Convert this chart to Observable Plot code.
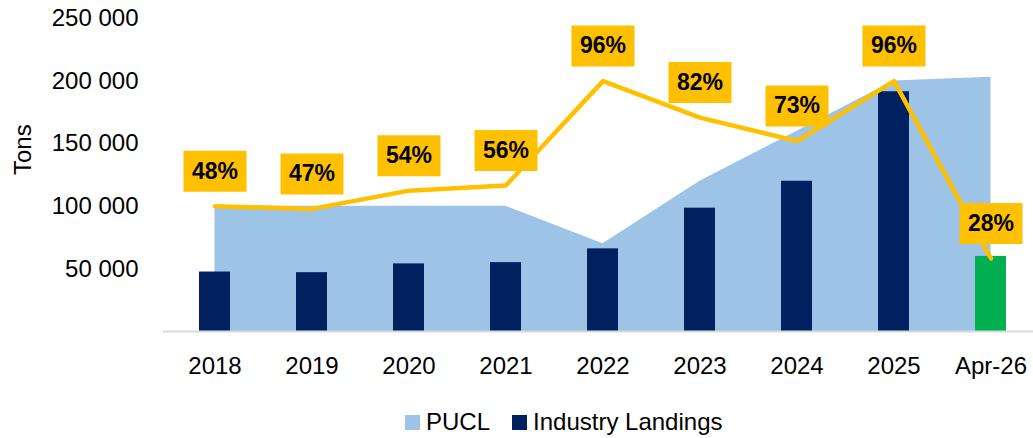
<!DOCTYPE html>
<html>
<head>
<meta charset="utf-8">
<script src="https://cdn.jsdelivr.net/npm/d3@7"></script>
<script src="https://cdn.jsdelivr.net/npm/@observablehq/plot@0.6"></script>
<style>
  html, body { margin: 0; padding: 0; background: #fff; overflow: hidden; }
  #wrap { position: relative; width: 1033px; height: 438px; font-family: "Liberation Sans", Arial, sans-serif; }
  #legend { position: absolute; left: 405px; top: 408px; height: 28px; display: flex; align-items: center; font-size: 24px; line-height: 28px; color: #000; }
  .sw { display: inline-block; width: 15px; height: 15px; margin-right: 6px; }
  .item { display: flex; align-items: center; margin-right: 22px; }
</style>
</head>
<body>
<div id="wrap">
  <div id="chart"></div>
  <div id="legend"></div>
</div>
<script>
const categories = ["2018", "2019", "2020", "2021", "2022", "2023", "2024", "2025", "Apr-26"];
const pucl = [100000, 100000, 100000, 100000, 70000, 120000, 160000, 200000, 203000];
const landings = [47500, 47000, 54000, 55000, 66000, 98500, 120000, 191500, 60000];
const utilization = [48, 47, 54, 56, 96, 82, 73, 96, 28];
const yTicks = [50000, 100000, 150000, 200000, 250000];

const data = categories.map((c, i) => ({
  cat: c, pucl: pucl[i], landings: landings[i], pct: utilization[i]
}));

// secondary axis: 0–120% shares the 0–250 000 range
const pctToY = p => p / 120 * 250000;

const font = '"Liberation Sans", Arial, sans-serif';
const labelBox = { draw(ctx) { ctx.rect(-31.5, -20.5, 63, 41); } };

const chart = Plot.plot({
  width: 1033,
  height: 395,
  marginLeft: 163,
  marginRight: -10,
  marginTop: 18,
  marginBottom: 64,
  style: { fontFamily: font, fontSize: "24px", color: "#000", background: "transparent" },
  x: { domain: categories, paddingInner: 0.68, paddingOuter: 0.34, label: null, tickSize: 0, tickPadding: 25 },
  y: { domain: [0, 250000], label: null, ticks: yTicks, tickSize: 0, tickPadding: 25,
       tickFormat: d => d3.format(",")(d).replace(/,/g, " ") },
  marks: [
    Plot.areaY(data, { x: "cat", y1: 0, y2: "pucl", fill: "#9DC3E6", curve: "linear" }),
    Plot.barY(data, { x: "cat", y: "landings", fill: d => d.cat === "Apr-26" ? "#00B050" : "#002060" }),
    Plot.ruleY([0], { stroke: "#D9D9D9", strokeWidth: 2 }),
    Plot.lineY(data, { x: "cat", y: d => pctToY(d.pct), stroke: "#FFC000", strokeWidth: 4.5, strokeLinecap: "round", strokeLinejoin: "round" }),
    Plot.dot(data, { x: "cat", y: d => pctToY(d.pct), symbol: labelBox, fill: "#FFC000", stroke: null, dy: -35 }),
    Plot.text(data, { x: "cat", y: d => pctToY(d.pct), text: d => d.pct + "%", dy: -35, fontWeight: "bold", fontSize: 23, fill: "#000" }),
    Plot.text(["Tons"], { frameAnchor: "left", dx: -140, rotate: -90, fontSize: 24, fill: "#000" })
  ]
});
chart.style.overflow = "visible";
document.getElementById("chart").appendChild(chart);

const legend = document.getElementById("legend");
[["PUCL", "#9DC3E6"], ["Industry Landings", "#002060"]].forEach(([name, color]) => {
  const item = document.createElement("div");
  item.className = "item";
  const sw = document.createElement("span");
  sw.className = "sw";
  sw.style.background = color;
  const t = document.createElement("span");
  t.textContent = name;
  item.appendChild(sw);
  item.appendChild(t);
  legend.appendChild(item);
});
</script>
</body>
</html>
